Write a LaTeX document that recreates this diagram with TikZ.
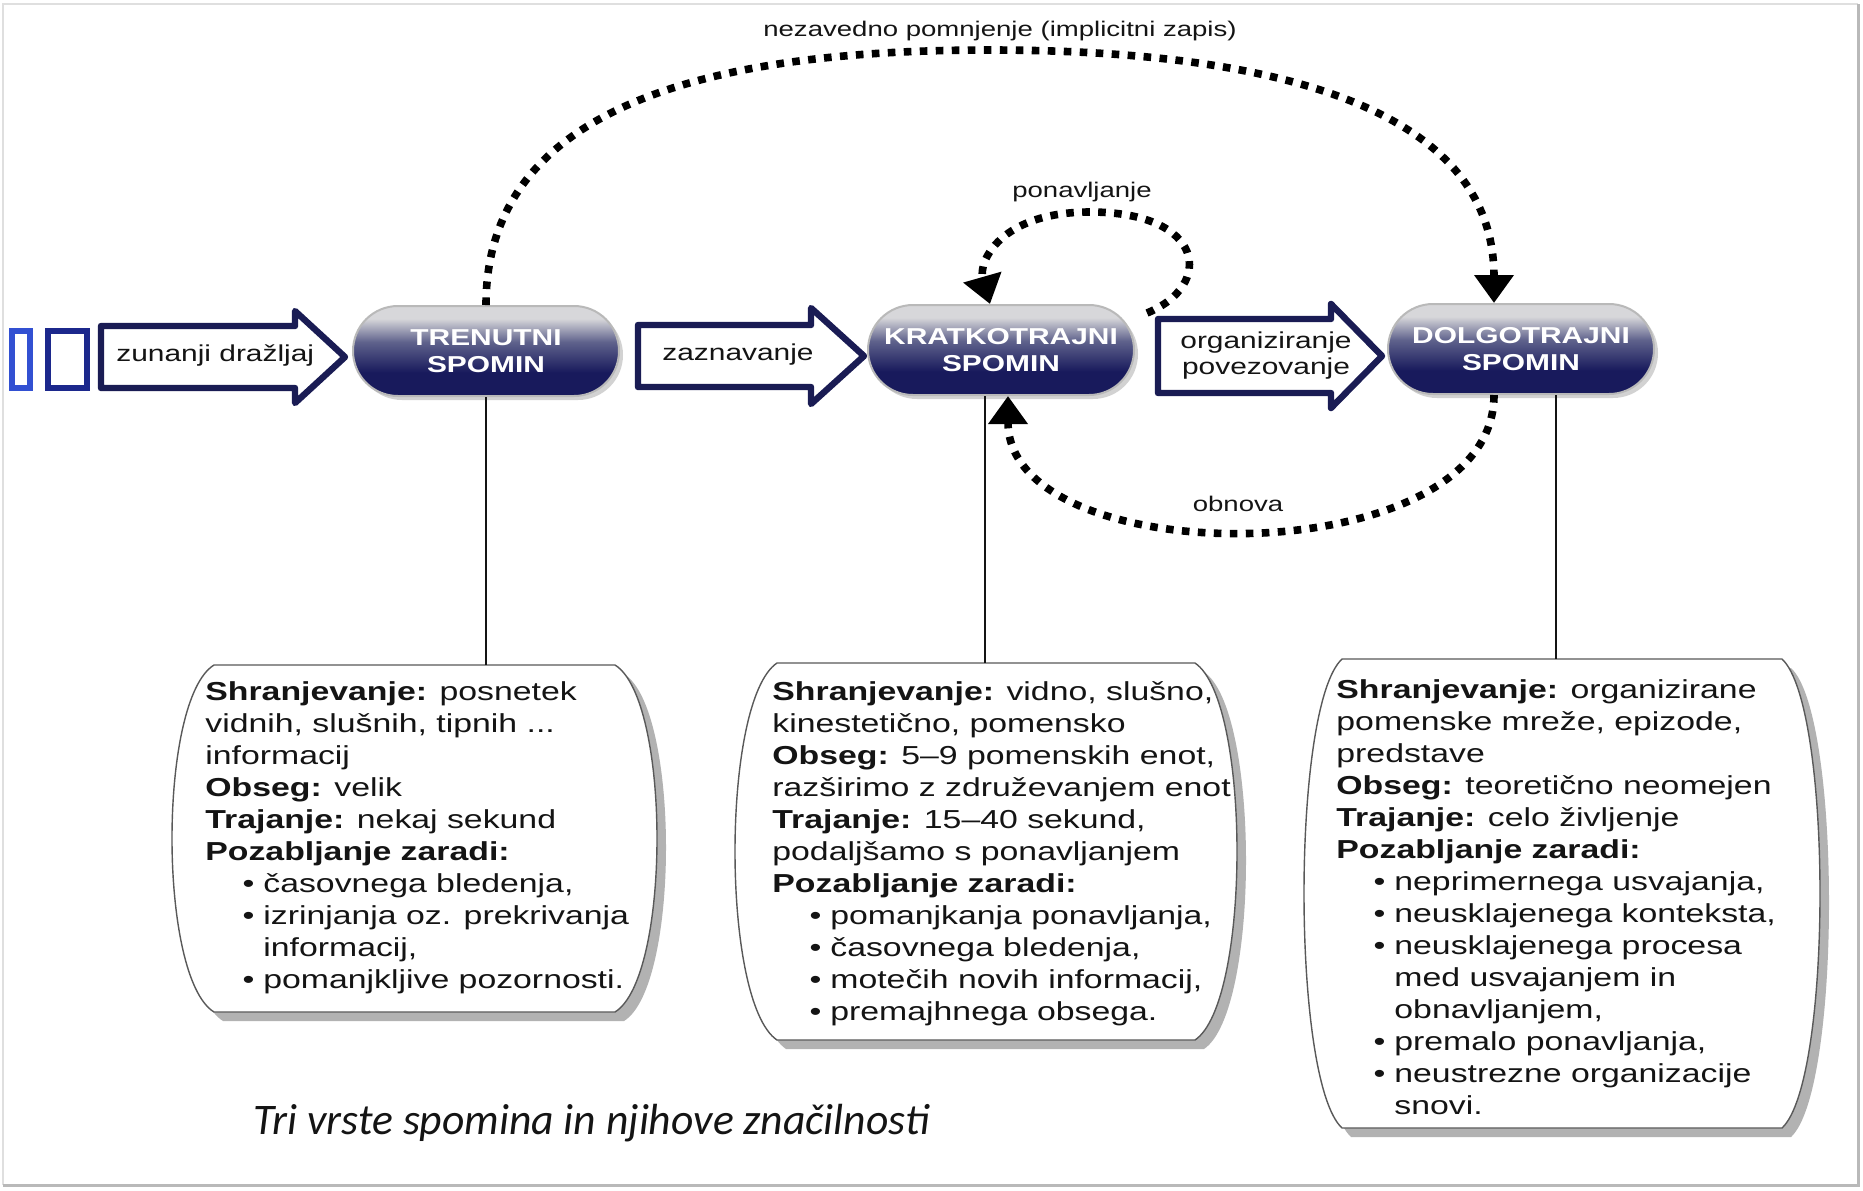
\documentclass[tikz,border=0pt]{standalone}
\usepackage{fontspec}
\setmainfont{Liberation Sans}[FakeStretch=1.3]
\newfontfamily\capfont{Carlito}
\usetikzlibrary{arrows.meta,shapes.misc,calc,shadows}
\definecolor{navyd}{RGB}{24,26,92}
\definecolor{navym}{RGB}{95,98,140}
\definecolor{silverl}{RGB}{215,215,218}
\definecolor{arrowc}{RGB}{26,28,84}
\definecolor{rectA}{RGB}{50,80,210}
\definecolor{rectB}{RGB}{28,40,140}
\definecolor{inkc}{RGB}{20,20,20}
\pgfdeclareverticalshading{stadshade}{100bp}{color(0bp)=(navyd); color(25bp)=(navyd); color(38bp)=(navyd); color(55bp)=(navym); color(68bp)=(silverl); color(75bp)=(silverl); color(100bp)=(silverl)}
\newcommand\itm{\hspace*{29pt}\llap{•\hspace{4.5pt}}}
\newcommand\cnt{\hspace*{29pt}}
% xl xr yt yb d
\newcommand\drawmem[5]{%
  \fill[memshadow,shift={(9,9)}] (#1+#5,#3) -- (#2-#5,#3) .. controls ({#2-#5+4*#5/3},{#3+0.1*(#4-#3)}) and ({#2-#5+4*#5/3},{#4-0.1*(#4-#3)}) .. (#2-#5,#4) -- (#1+#5,#4) .. controls ({#1+#5-4*#5/3},{#4-0.1*(#4-#3)}) and ({#1+#5-4*#5/3},{#3+0.1*(#4-#3)}) .. cycle;
  \draw[membox] (#1+#5,#3) -- (#2-#5,#3) .. controls ({#2-#5+4*#5/3},{#3+0.1*(#4-#3)}) and ({#2-#5+4*#5/3},{#4-0.1*(#4-#3)}) .. (#2-#5,#4) -- (#1+#5,#4) .. controls ({#1+#5-4*#5/3},{#4-0.1*(#4-#3)}) and ({#1+#5-4*#5/3},{#3+0.1*(#4-#3)}) .. cycle;}
\newcommand\blockarrow[6]{%
  \draw[blockar] (#1,#4-#5) -- (#2,#4-#5) -- (#2,#4-#6) -- (#3,#4) -- (#2,#4+#6) -- (#2,#4+#5) -- (#1,#4+#5) -- cycle;}
\begin{document}
\begin{tikzpicture}[x=0.5pt,y=-0.5pt,
  stad/.style={rounded rectangle, minimum width=133pt, minimum height=45pt, shade, shading=stadshade, draw=gray!55, line width=1pt, text=white, font=\bfseries\fontsize{11.5pt}{13.5pt}\selectfont, align=center, inner sep=0pt, drop shadow={shadow xshift=2pt, shadow yshift=-2pt, opacity=0.35}},
  blockar/.style={draw=arrowc, fill=white, line width=3.2pt, line join=round},
  dotline/.style={line width=3.8pt, dash pattern=on 3.8pt off 4.2pt, -{Triangle[width=19pt,length=14pt]}},
  conn/.style={line width=0.75pt, draw=inkc},
  lbl/.style={font=\fontsize{10.6pt}{12pt}\selectfont, text=inkc, inner sep=0pt},
  arlbl/.style={font=\fontsize{11.5pt}{13pt}\selectfont, text=inkc, align=center, inner sep=0pt},
  boxtxt/.style={font=\fontsize{13pt}{16pt}\selectfont, text=inkc, align=left, inner sep=0pt, anchor=north west},
  membox/.style={fill=white, draw=gray!70!black, line width=0.7pt},
  memshadow/.style={fill=gray!60}]
\useasboundingbox (0,0) rectangle (1863,1190);
\fill[white] (0,0) rectangle (1863,1190);
\draw[gray!25, line width=1pt] (3,1185) -- (3,4) -- (1858,4);
\draw[gray!55, line width=1.5pt] (3,1185) -- (1858,1185) -- (1858,4);

% small rectangles
\draw[rectA, line width=3pt, fill=white] (12,331) rectangle (30,388);
\draw[rectB, line width=3pt, fill=white] (48,331) rectangle (87,388);

% block arrows
\blockarrow{101}{295}{345}{357}{31}{46}
\blockarrow{638}{811}{864}{356}{31}{48}
\blockarrow{1158}{1331}{1382}{356}{37}{52}
\node[arlbl, anchor=west] (a1) at (116,356) {zunanji dražljaj};
\node[arlbl] (a2) at (738,355) {zaznavanje};
\node[arlbl] (a3) at (1266,356) {organiziranje\\povezovanje};

% memory nodes
\node[stad] (tre) at (486,351) {TRENUTNI\\SPOMIN};
\node[stad] (kra) at (1001,350) {KRATKOTRAJNI\\SPOMIN};
\node[stad] (dol) at (1521,349) {DOLGOTRAJNI\\SPOMIN};

% boxes
\drawmem{172}{657}{665}{1012}{42}
\drawmem{735}{1237}{663}{1040}{42}
\drawmem{1304}{1820}{659}{1128}{38}
\coordinate (b1top) at (486,665);
\coordinate (b2top) at (985,663);
\coordinate (b3top) at (1556,659);
\draw[conn] (tre.south) -- (b1top);
\draw[conn] (kra.south -| b2top) -- (b2top);
\draw[conn] (dol.south -| b3top) -- (b3top);

% dotted connectors
\coordinate (dolin) at ($(dol.north)+(-27,0)$);
\draw[dotline] (tre.north) .. controls (486,110) and (700,50) .. (989,50) .. controls (1280,50) and (1494,110) .. (dolin);
\node[lbl] (l1) at (1000,31) {nezavedno pomnjenje (implicitni zapis)};

\coordinate (ponst) at (1147,313);
\coordinate (ponend) at ($(kra.north)+(-11,0)$);
\draw[dotline] (ponst) .. controls (1215,285) and (1205,212) .. (1090,212) .. controls (1000,212) and (978,262) .. (ponend);
\node[lbl] (l2) at (1082,192) {ponavljanje};

\coordinate (obst) at ($(dol.south)+(-27,0)$);
\coordinate (obend) at ($(kra.south)+(7,0)$);
\draw[dotline] (obst) .. controls (1494,575) and (1008,575) .. (obend);
\node[lbl] (l3) at (1238,504) {obnova};

% box texts
\node[boxtxt] (t1) at (205,681) {\textbf{Shranjevanje:} posnetek\\
vidnih, slušnih, tipnih ...\\
informacij\\
\textbf{Obseg:} velik\\
\textbf{Trajanje:} nekaj sekund\\
\textbf{Pozabljanje zaradi:}\\
\itm časovnega bledenja,\\
\itm izrinjanja oz. prekrivanja\\
\cnt informacij,\\
\itm pomanjkljive pozornosti.};

\node[boxtxt] (t2) at (772,681) {\textbf{Shranjevanje:} vidno, slušno,\\
kinestetično, pomensko\\
\textbf{Obseg:} 5–9 pomenskih enot,\\
razširimo z združevanjem enot\\
\textbf{Trajanje:} 15–40 sekund,\\
podaljšamo s ponavljanjem\\
\textbf{Pozabljanje zaradi:}\\
\itm pomanjkanja ponavljanja,\\
\itm časovnega bledenja,\\
\itm motečih novih informacij,\\
\itm premajhnega obsega.};

\node[boxtxt] (t3) at (1336,679) {\textbf{Shranjevanje:} organizirane\\
pomenske mreže, epizode,\\
predstave\\
\textbf{Obseg:} teoretično neomejen\\
\textbf{Trajanje:} celo življenje\\
\textbf{Pozabljanje zaradi:}\\
\itm neprimernega usvajanja,\\
\itm neusklajenega konteksta,\\
\itm neusklajenega procesa\\
\cnt med usvajanjem in\\
\cnt obnavljanjem,\\
\itm premalo ponavljanja,\\
\itm neustrezne organizacije\\
\cnt snovi.};

\node[font=\capfont\itshape\fontsize{21.8pt}{26pt}\selectfont, anchor=west, text=inkc, inner sep=0pt] (cap) at (253,1123) {Tri vrste spomina in njihove značilnosti};
\end{tikzpicture}
\end{document}
